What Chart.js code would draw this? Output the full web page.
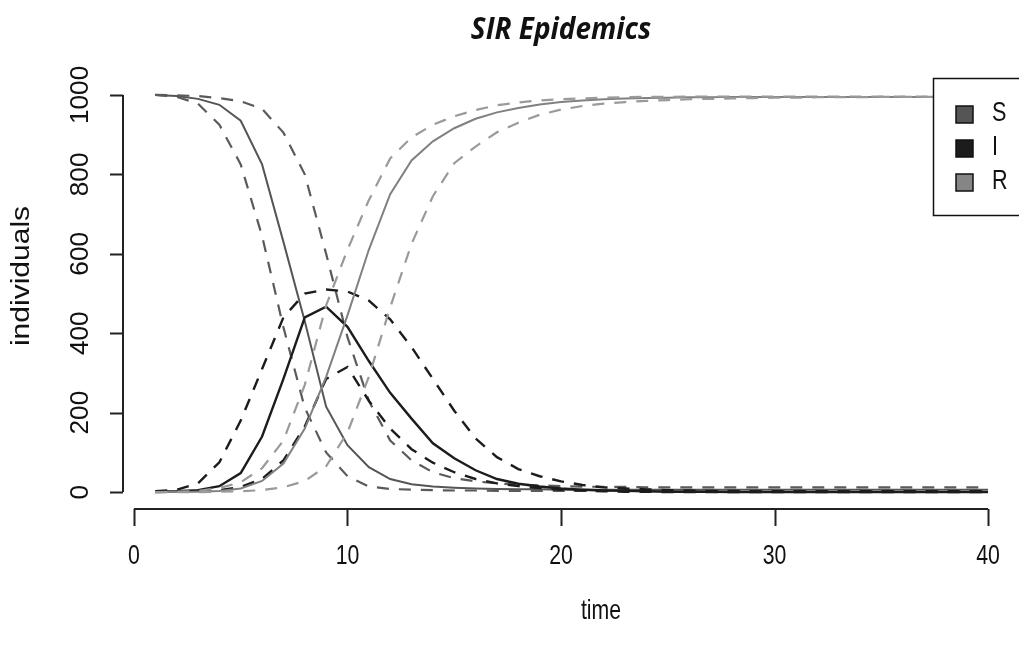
<!DOCTYPE html>
<html lang="en">
<head>
<meta charset="UTF-8">
<title>SIR Epidemics</title>
<script src="https://cdn.jsdelivr.net/npm/chart.js@4.4.1/dist/chart.umd.min.js"></script>
<style>
  html, body { margin: 0; padding: 0; background: #fff; }
  #wrap { width: 1019px; height: 645px; }
</style>
</head>
<body>
<div id="wrap"><canvas id="sirChart"></canvas></div>
<script>
// time steps
const times = [1, 2, 3, 4, 5, 6, 7, 8, 9, 10, 11, 12, 13, 14, 15, 16, 17, 18, 19, 20,
               21, 22, 23, 24, 25, 26, 27, 28, 29, 30, 31, 32, 33, 34, 35, 36, 37, 38, 39, 40];

// susceptible: median and the two dashed bands
const sMed = [1000, 997, 990, 975, 935, 825, 630, 430, 215, 118, 63, 33, 20, 14, 11, 9, 8, 7, 7, 6,
              6, 6, 6, 6, 6, 6, 6, 6, 6, 6, 6, 6, 6, 6, 6, 6, 6, 6, 6, 6];
const sHigh = [1000, 999, 997, 992, 984, 965, 905, 800, 600, 390, 230, 130, 80, 50, 35, 27, 22, 19, 17, 15,
               14, 13, 13, 12, 12, 12, 12, 12, 12, 12, 12, 12, 12, 12, 12, 12, 12, 12, 12, 12];
const sLow = [1000, 995, 978, 925, 825, 645, 415, 212, 100, 40, 14, 8, 6, 5, 4, 4, 3, 3, 3, 3,
              3, 3, 3, 3, 3, 3, 3, 3, 3, 3, 3, 3, 3, 3, 3, 3, 3, 3, 3, 3];

// infected
const iMed = [1, 2, 5, 15, 48, 140, 285, 440, 467, 416, 330, 250, 185, 123, 85, 55, 33, 21, 14, 9,
              6, 4, 3, 2, 1, 1, 1, 0, 0, 0, 0, 0, 0, 0, 0, 0, 0, 0, 0, 0];
const iHigh = [2, 6, 22, 75, 180, 310, 440, 500, 510, 505, 482, 435, 365, 285, 205, 135, 88, 58, 40, 27,
               18, 12, 9, 7, 5, 4, 3, 3, 2, 2, 2, 2, 2, 2, 2, 2, 2, 2, 2, 2];
const iLow = [0, 1, 2, 5, 13, 33, 80, 165, 285, 315, 230, 160, 108, 74, 50, 33, 22, 15, 10, 6,
              4, 2, 1, 1, 0, 0, 0, 0, 0, 0, 0, 0, 0, 0, 0, 0, 0, 0, 0, 0];

// recovered
const rMed = [0, 0, 1, 3, 9, 28, 72, 160, 290, 445, 610, 750, 835, 883, 916, 940, 956, 967, 976, 982,
              986, 989, 991, 992, 993, 994, 994, 995, 995, 995, 995, 995, 995, 995, 995, 995, 995, 995, 995, 995];
const rHigh = [0, 1, 3, 10, 25, 60, 130, 270, 470, 610, 735, 840, 893, 925, 946, 962, 974, 981, 986, 989,
               991, 993, 994, 995, 995, 996, 996, 996, 996, 996, 996, 996, 996, 996, 996, 996, 996, 996, 996, 996];
const rLow = [0, 0, 0, 1, 2, 5, 12, 28, 65, 150, 290, 465, 625, 745, 828, 870, 906, 930, 950, 963,
              972, 978, 982, 985, 987, 989, 990, 991, 992, 993, 993, 994, 994, 994, 995, 995, 995, 995, 995, 995];

const xTicks = [0, 10, 20, 30, 40];
const yTicks = [0, 200, 400, 600, 800, 1000];
const legendNames = ['S', 'I', 'R'];
const legendColors = ['#555555', '#1c1c1c', '#858585'];

function pts(vals) {
  return vals.map((v, i) => ({ x: times[i], y: v }));
}

function line(vals, color, width, dashed, order) {
  return {
    data: pts(vals),
    borderColor: color,
    borderWidth: width,
    borderDash: dashed ? [12, 10] : [],
    pointRadius: 0,
    tension: 0,
    fill: false,
    order: order
  };
}

// narrow text like the squeezed R output
function drawText(ctx, txt, x, y, sx, rot) {
  ctx.save();
  ctx.translate(x, y);
  if (rot) ctx.rotate(rot);
  ctx.scale(sx, 1);
  ctx.fillText(txt, 0, 0);
  ctx.restore();
}

const rStyle = {
  id: 'rStyle',
  afterDatasetsDraw(chart) {
    const { ctx, chartArea: a, scales: { x, y } } = chart;
    ctx.save();
    ctx.strokeStyle = '#222';
    ctx.fillStyle = '#111';
    ctx.lineWidth = 2;

    // x axis
    const xb = a.bottom + 1;
    ctx.beginPath();
    ctx.moveTo(x.getPixelForValue(xTicks[0]), xb);
    ctx.lineTo(x.getPixelForValue(xTicks[xTicks.length - 1]), xb);
    xTicks.forEach(t => {
      const px = Math.round(x.getPixelForValue(t)) + 0.5;
      ctx.moveTo(px, xb);
      ctx.lineTo(px, xb + 17);
    });
    ctx.stroke();
    ctx.font = '28px "Liberation Sans", Arial, sans-serif';
    ctx.textAlign = 'center';
    ctx.textBaseline = 'middle';
    xTicks.forEach(t => drawText(ctx, String(t), x.getPixelForValue(t), 556, 0.76, 0));
    drawText(ctx, 'time', 601, 611, 0.76, 0);

    // y axis
    const yl = a.left + 1;
    ctx.beginPath();
    ctx.moveTo(yl, y.getPixelForValue(yTicks[0]));
    ctx.lineTo(yl, y.getPixelForValue(yTicks[yTicks.length - 1]));
    yTicks.forEach(v => {
      const py = Math.round(y.getPixelForValue(v)) + 0.5;
      ctx.moveTo(yl, py);
      ctx.lineTo(yl - 13, py);
    });
    ctx.stroke();
    ctx.font = '25px "Liberation Sans", Arial, sans-serif';
    yTicks.forEach(v => drawText(ctx, String(v), 81, y.getPixelForValue(v), 1.05, -Math.PI / 2));
    drawText(ctx, 'individuals', 22, 276, 1.2, -Math.PI / 2);

    // title
    ctx.font = 'italic 700 31px "Open Sans", sans-serif';
    drawText(ctx, 'SIR Epidemics', 561, 30, 0.9, 0);

    // legend
    ctx.fillStyle = '#fff';
    ctx.fillRect(933, 78, 110, 137);
    ctx.lineWidth = 1.5;
    ctx.strokeStyle = '#111';
    ctx.strokeRect(933.5, 78.5, 110, 137);
    ctx.font = '27px "Liberation Sans", Arial, sans-serif';
    ctx.textAlign = 'left';
    legendNames.forEach((n, i) => {
      const cy = 114 + i * 34;
      ctx.fillStyle = legendColors[i];
      ctx.fillRect(956, cy - 8, 17, 17);
      ctx.strokeStyle = '#111';
      ctx.strokeRect(956, cy - 8, 17, 17);
      ctx.fillStyle = '#111';
      drawText(ctx, n, 992, cy, 0.8, 0);
    });
    ctx.restore();
  }
};

new Chart(document.getElementById('sirChart'), {
  type: 'line',
  data: {
    datasets: [
      line(sMed, '#555555', 2, false, 9),
      line(sHigh, '#5a5a5a', 2.2, true, 8),
      line(sLow, '#5a5a5a', 2.2, true, 7),
      line(iMed, '#1c1c1c', 2.4, false, 6),
      line(iHigh, '#1c1c1c', 2.4, true, 5),
      line(iLow, '#1c1c1c', 2.4, true, 4),
      line(rMed, '#808080', 2, false, 3),
      line(rHigh, '#9a9a9a', 2.2, true, 2),
      line(rLow, '#9a9a9a', 2.2, true, 1)
    ]
  },
  options: {
    responsive: true,
    maintainAspectRatio: false,
    animation: false,
    layout: { padding: { left: 122, right: 0, top: 79, bottom: 137 } },
    scales: {
      x: { type: 'linear', min: -0.56, max: 41.45, display: false },
      y: { type: 'linear', min: -40, max: 1040, display: false }
    },
    plugins: {
      legend: { display: false },
      title: { display: false },
      tooltip: { enabled: false }
    }
  },
  plugins: [rStyle]
});
</script>
</body>
</html>
